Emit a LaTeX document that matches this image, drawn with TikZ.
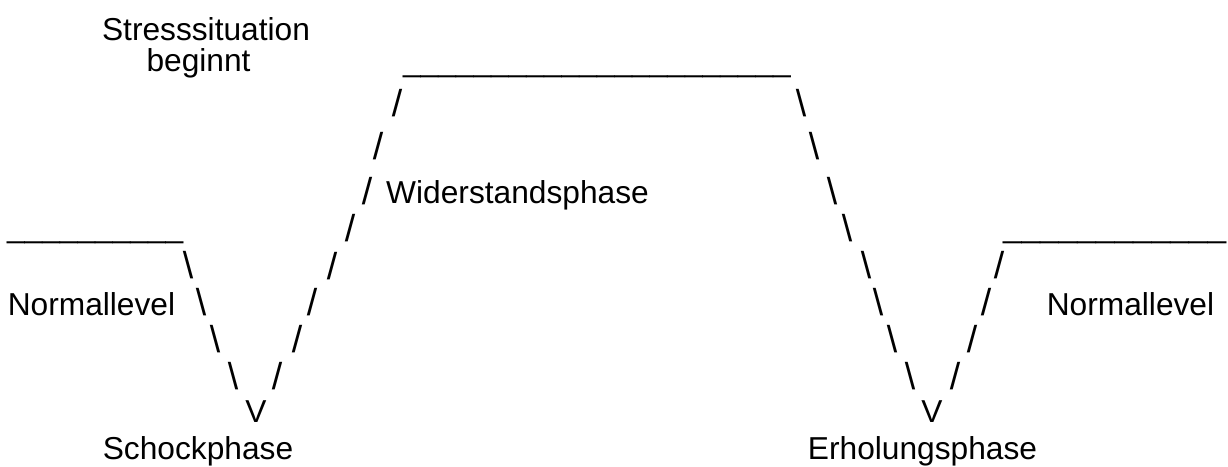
\documentclass[tikz,border=0pt]{standalone}
\usepackage{fontspec}
\setmainfont{Liberation Sans}
\newcommand{\bigfont}{\fontsize{31.7}{38}\selectfont}
\newcommand{\slashfont}{\fontsize{37.5}{44}\selectfont}
\begin{document}
\begin{tikzpicture}[x=1pt,y=-1pt,
  glyph/.style={inner sep=0pt, outer sep=0pt, font=\slashfont, anchor=center},
  vee/.style={inner sep=0pt, outer sep=0pt, font=\bigfont, anchor=center},
  word/.style={inner sep=0pt, outer sep=0pt, font=\bigfont, anchor=base},
  rule/.style={inner sep=0pt, outer sep=0pt, font=\bigfont, anchor=base west}]
\useasboundingbox (0,0) rectangle (1228,466);
% labels
\node[word] (stressA) at (206,40) {Stresssituation};
\node[word] (stressB) at (198.5,71) {beginnt};
\node[word] (wider) at (517.5,203) {Widerstandsphase};
\node[word] (normL) at (91.5,315) {Normallevel};
\node[word] (normR) at (1130.5,315) {Normallevel};
\node[word] (schock) at (198,459) {Schockphase};
\node[word] (erhol) at (922.5,459) {Erholungsphase};
% underscore levels
\node[rule] (topline) at (403,71) {\_\_\_\_\_\_\_\_\_\_\_\_\_\_\_\_\_\_\_\_\_\_};
\node[rule] (leftline) at (7,237) {\_\_\_\_\_\_\_\_\_\_};
\node[rule] (rightline) at (1003,237) {\scalebox{1.055}[1]{\_\_\_\_\_\_\_\_\_\_\_\_}};
% left rising slashes
\node[glyph] (lr1) at (397,103) {/};
\node[glyph] (lr2) at (378,146) {/};
\node[glyph] (lr3) at (367,191) {/};
\node[glyph] (lr4) at (350,228) {/};
\node[glyph] (lr5) at (332,266) {/};
\node[glyph] (lr6) at (312,302) {/};
\node[glyph] (lr7) at (297,339) {/};
\node[glyph] (lr8) at (277,376) {/};
% left descending
\node[glyph] (ld1) at (188,265) {\textbackslash};
\node[glyph] (ld2) at (201,302) {\textbackslash};
\node[glyph] (ld3) at (215,339) {\textbackslash};
\node[glyph] (ld4) at (233,376) {\textbackslash};
\node[vee] (vL) at (256,412) {V};
% right descending
\node[glyph] (rd1) at (801,103) {\textbackslash};
\node[glyph] (rd2) at (814,146) {\textbackslash};
\node[glyph] (rd3) at (832,191) {\textbackslash};
\node[glyph] (rd4) at (847,228) {\textbackslash};
\node[glyph] (rd5) at (866,265) {\textbackslash};
\node[glyph] (rd6) at (878,302) {\textbackslash};
\node[glyph] (rd7) at (892,339) {\textbackslash};
\node[glyph] (rd8) at (910,376) {\textbackslash};
\node[vee] (vR) at (932,412) {V};
% right rising
\node[glyph] (rr1) at (999,265) {/};
\node[glyph] (rr2) at (986,302) {/};
\node[glyph] (rr3) at (972,339) {/};
\node[glyph] (rr4) at (955,376) {/};
\end{tikzpicture}
\end{document}
